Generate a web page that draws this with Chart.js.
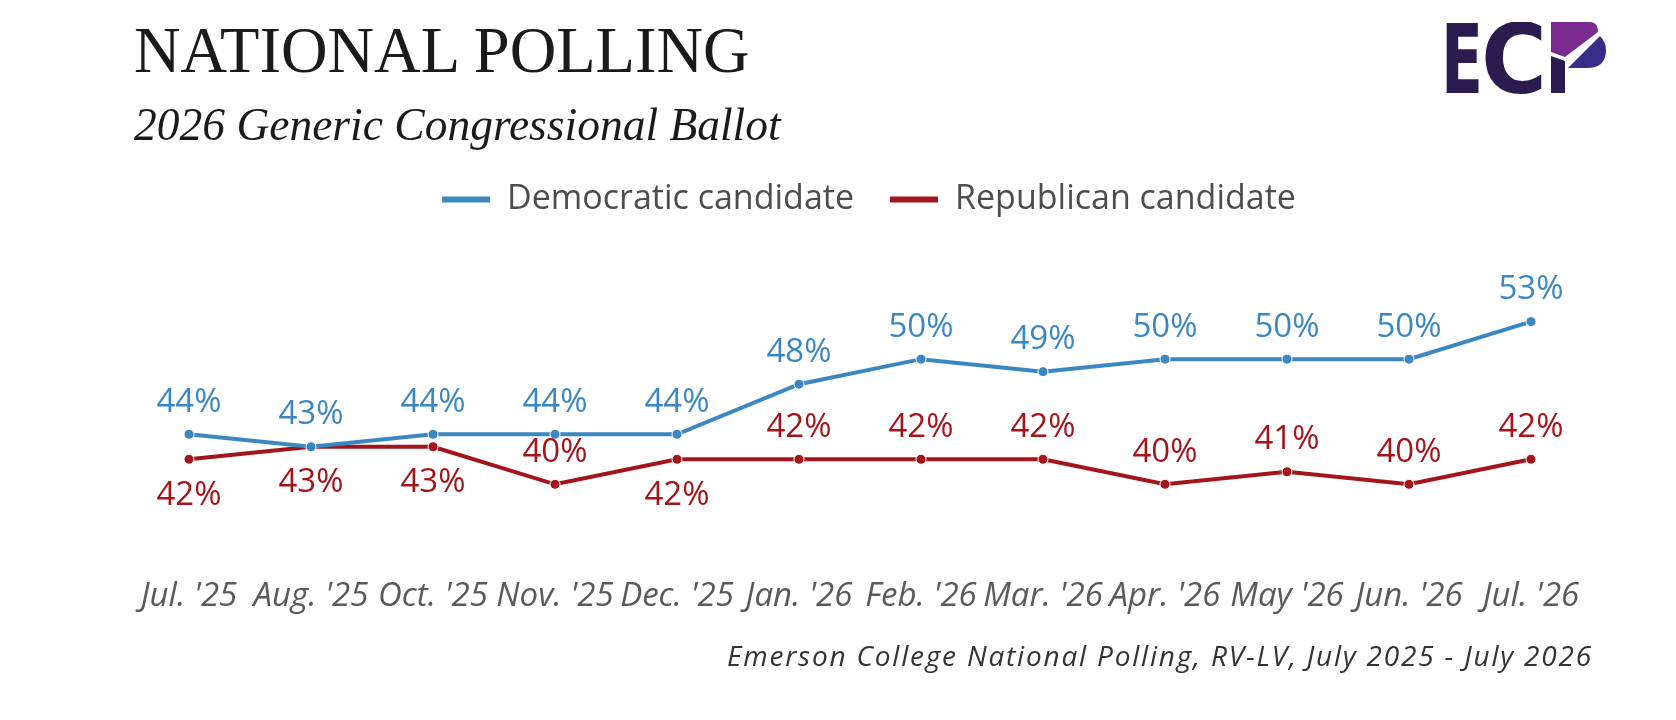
<!DOCTYPE html>
<html>
<head>
<meta charset="utf-8">
<script src="https://cdn.jsdelivr.net/npm/chart.js@4.4.1/dist/chart.umd.min.js"></script>
<style>
  html, body { margin: 0; padding: 0; background: #fff; }
  #wrap { position: relative; width: 1676px; height: 720px; overflow: hidden; }
  #canvas { position: absolute; left: 0; top: 0; }
  .title { position: absolute; left: 134px; top: 19px; font: 64.5px/1 "Liberation Serif", serif; color: #1a1a1a; white-space: nowrap; }
  .subtitle { position: absolute; left: 134px; top: 102px; font: italic 45.5px/1 "Liberation Serif", serif; color: #1a1a1a; white-space: nowrap; }
  .footer { position: absolute; right: 83px; top: 641px; font: italic 28px/1 "Open Sans", sans-serif; letter-spacing: 1.8px; color: #333; white-space: nowrap; }
  #logo { position: absolute; left: 1441px; top: 22px; }
</style>
</head>
<body>
<div id="wrap">
  <canvas id="canvas" width="1676" height="720"></canvas>
  <div class="title">NATIONAL POLLING</div>
  <div class="subtitle">2026 Generic Congressional Ballot</div>
  <div class="footer">Emerson College National Polling, RV-LV, July 2025 - July 2026</div>
  <svg id="logo" width="172" height="74" viewBox="0 0 172 74">
    <text x="0" y="71" font-family="DejaVu Sans" font-weight="bold" font-size="97" fill="#2b1b4f" textLength="42" lengthAdjust="spacingAndGlyphs">E</text>
    <text x="40" y="71" font-family="DejaVu Sans" font-weight="bold" font-size="97" fill="#2b1b4f" textLength="66" lengthAdjust="spacingAndGlyphs">C</text>
    <path d="M110,34 L124,39 L124,71 L110,71 Z" fill="#2b1b4f"/>
    <path d="M110,0 L150,0 Q157,1 157,10 L124,35 L110,30 Z" fill="#7a2b8e"/>
    <path d="M159,14 Q165,20 165,28 Q165,46 146,46 L127,46 Z" fill="#3a2d8a"/>
  </svg>
</div>
<script>
// Données du sondage
const months = ["Jul. '25", "Aug. '25", "Oct. '25", "Nov. '25", "Dec. '25", "Jan. '26",
                "Feb. '26", "Mar. '26", "Apr. '26", "May '26", "Jun. '26", "Jul. '26"];
const democratic = [44, 43, 44, 44, 44, 48, 50, 49, 50, 50, 50, 53];
const republican = [42, 43, 43, 40, 42, 42, 42, 42, 40, 41, 40, 42];
// où placer l'étiquette de chaque point (au-dessus / en dessous)
const demLabelPos = ['above', 'above', 'above', 'above', 'above', 'above', 'above', 'above', 'above', 'above', 'above', 'above'];
const repLabelPos = ['below', 'below', 'below', 'above', 'below', 'above', 'above', 'above', 'above', 'above', 'above', 'above'];

const blue = '#3b87c1';
const red = '#a3151b';

// Plugin maison pour écrire les pourcentages sur les points
const valueLabels = {
    id: 'valueLabels',
    afterLayout(chart) {
        // petit décalage de la légende vers la droite, comme sur l'original
        chart.legend.left += 9;
        chart.legend.right += 9;
    },
    afterDatasetsDraw(chart) {
        const ctx = chart.ctx;
        ctx.save();
        ctx.font = '33px "Open Sans", sans-serif';
        ctx.textAlign = 'center';
        ctx.textBaseline = 'middle';
        chart.data.datasets.forEach((ds, i) => {
            const meta = chart.getDatasetMeta(i);
            ctx.fillStyle = ds.borderColor;
            meta.data.forEach((pt, j) => {
                const dy = ds.labelPos[j] === 'above' ? -32 : 36;
                ctx.fillText(ds.data[j] + '%', pt.x, pt.y + dy);
            });
        });
        ctx.restore();
    }
};

const config = {
    type: 'line',
    data: {
        labels: months,
        datasets: [
            {
                label: 'Democratic candidate',
                data: democratic,
                labelPos: demLabelPos,
                borderColor: blue,
                backgroundColor: blue,
                borderWidth: 4,
                pointRadius: 5,
                pointBackgroundColor: blue,
                pointBorderColor: '#fff',
                pointBorderWidth: 1,
                tension: 0,
                clip: false
            },
            {
                label: 'Republican candidate',
                data: republican,
                labelPos: repLabelPos,
                borderColor: red,
                backgroundColor: red,
                borderWidth: 4,
                pointRadius: 5,
                pointBackgroundColor: red,
                pointBorderColor: '#fff',
                pointBorderWidth: 1,
                tension: 0,
                clip: false
            }
        ]
    },
    options: {
        responsive: false,
        devicePixelRatio: 1,
        animation: false,
        layout: {
            padding: { top: 146.5, left: 189, right: 145, bottom: 87 }
        },
        plugins: {
            tooltip: { enabled: false },
            legend: {
                position: 'top',
                labels: {
                    boxWidth: 48,
                    boxHeight: 6,
                    padding: 36,
                    color: '#4d4d4d',
                    font: { family: '"Open Sans", sans-serif', size: 34 },
                    generateLabels: function(chart) {
                        const items = Chart.defaults.plugins.legend.labels.generateLabels(chart);
                        items.forEach(it => { it.lineWidth = 0; it.fillStyle = it.strokeStyle; });
                        return items;
                    }
                }
            }
        },
        scales: {
            x: {
                offset: false,
                grid: { display: false, drawTicks: false },
                border: { display: false },
                ticks: {
                    autoSkip: false,
                    maxRotation: 0,
                    minRotation: 0,
                    padding: 17,
                    color: '#5a5a5a',
                    font: { family: '"Open Sans", sans-serif', size: 33, style: 'italic' }
                }
            },
            y: {
                display: false,
                min: 34,
                max: 60.6
            }
        }
    },
    plugins: [valueLabels]
};

new Chart(document.getElementById('canvas'), config);
</script>
</body>
</html>
